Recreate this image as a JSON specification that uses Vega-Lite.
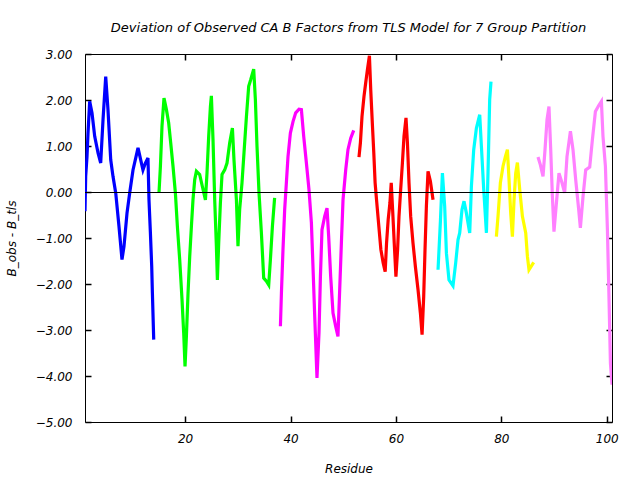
{
  "$schema": "https://vega.github.io/schema/vega-lite/v6.json",
  "width": 527,
  "height": 368,
  "autosize": {"type": "none"},
  "padding": {"left": 85, "top": 54, "right": 28, "bottom": 58},
  "background": "white",
  "title": {
    "text": "Deviation of Observed CA B Factors from TLS Model for 7 Group Partition",
    "font": "DejaVu Sans",
    "fontStyle": "italic",
    "fontWeight": "normal",
    "fontSize": 13,
    "color": "black",
    "anchor": "middle",
    "offset": 13
  },
  "config": {
    "view": {"stroke": "black", "strokeWidth": 1},
    "axis": {
      "labelFont": "DejaVu Sans",
      "labelFontStyle": "italic",
      "labelFontSize": 12,
      "labelColor": "black",
      "titleFont": "DejaVu Sans",
      "titleFontStyle": "italic",
      "titleFontWeight": "normal",
      "titleFontSize": 12,
      "titleColor": "black",
      "domain": false,
      "grid": false,
      "ticks": true,
      "tickColor": "black",
      "tickSize": 6,
      "tickWidth": 1.5,
      "zindex": 1
    }
  },
  "data": {
    "values": [
      {"g": "1", "r": 1.0, "v": -0.42},
      {"g": "1", "r": 1.13, "v": 0.34},
      {"g": "1", "r": 1.38, "v": 0.77},
      {"g": "1", "r": 1.57, "v": 1.28},
      {"g": "1", "r": 1.89, "v": 1.97},
      {"g": "1", "r": 2.33, "v": 1.72},
      {"g": "1", "r": 2.84, "v": 1.21},
      {"g": "1", "r": 3.47, "v": 0.85},
      {"g": "1", "r": 3.98, "v": 0.63},
      {"g": "1", "r": 4.42, "v": 1.57},
      {"g": "1", "r": 4.93, "v": 2.51},
      {"g": "1", "r": 5.36, "v": 1.79},
      {"g": "1", "r": 5.88, "v": 0.70},
      {"g": "1", "r": 6.31, "v": 0.34},
      {"g": "1", "r": 6.83, "v": -0.02},
      {"g": "1", "r": 7.45, "v": -0.75},
      {"g": "1", "r": 8.02, "v": -1.47},
      {"g": "1", "r": 8.40, "v": -1.18},
      {"g": "1", "r": 8.97, "v": -0.46},
      {"g": "1", "r": 9.48, "v": -0.02},
      {"g": "1", "r": 10.11, "v": 0.48},
      {"g": "1", "r": 11.06, "v": 0.96},
      {"g": "1", "r": 11.57, "v": 0.70},
      {"g": "1", "r": 12.0, "v": 0.48},
      {"g": "1", "r": 12.46, "v": 0.63},
      {"g": "1", "r": 12.95, "v": 0.74},
      {"g": "1", "r": 13.14, "v": -0.17},
      {"g": "1", "r": 13.41, "v": -0.89},
      {"g": "1", "r": 13.66, "v": -1.62},
      {"g": "1", "r": 13.79, "v": -2.2},
      {"g": "1", "r": 14.04, "v": -3.21},

      {"g": "2", "r": 15.04, "v": -0.02},
      {"g": "2", "r": 15.31, "v": 0.56},
      {"g": "2", "r": 15.61, "v": 1.43},
      {"g": "2", "r": 15.99, "v": 2.04},
      {"g": "2", "r": 16.45, "v": 1.79},
      {"g": "2", "r": 16.88, "v": 1.50},
      {"g": "2", "r": 17.26, "v": 1.07},
      {"g": "2", "r": 17.7, "v": 0.56},
      {"g": "2", "r": 18.15, "v": -0.02},
      {"g": "2", "r": 18.53, "v": -0.75},
      {"g": "2", "r": 18.97, "v": -1.47},
      {"g": "2", "r": 19.41, "v": -2.34},
      {"g": "2", "r": 19.73, "v": -3.07},
      {"g": "2", "r": 19.98, "v": -3.79},
      {"g": "2", "r": 20.24, "v": -3.14},
      {"g": "2", "r": 20.55, "v": -2.2},
      {"g": "2", "r": 20.87, "v": -1.40},
      {"g": "2", "r": 21.19, "v": -0.75},
      {"g": "2", "r": 21.49, "v": -0.17},
      {"g": "2", "r": 21.82, "v": 0.27},
      {"g": "2", "r": 22.14, "v": 0.45},
      {"g": "2", "r": 22.76, "v": 0.38},
      {"g": "2", "r": 23.27, "v": 0.12},
      {"g": "2", "r": 23.85, "v": -0.17},
      {"g": "2", "r": 24.15, "v": 0.41},
      {"g": "2", "r": 24.47, "v": 1.21},
      {"g": "2", "r": 24.8, "v": 1.86},
      {"g": "2", "r": 24.98, "v": 2.09},
      {"g": "2", "r": 25.29, "v": 1.14},
      {"g": "2", "r": 25.61, "v": -0.17},
      {"g": "2", "r": 25.93, "v": -1.18},
      {"g": "2", "r": 26.12, "v": -1.91},
      {"g": "2", "r": 26.37, "v": -1.11},
      {"g": "2", "r": 26.69, "v": -0.24},
      {"g": "2", "r": 27.0, "v": 0.38},
      {"g": "2", "r": 27.51, "v": 0.48},
      {"g": "2", "r": 27.95, "v": 0.63},
      {"g": "2", "r": 28.46, "v": 1.07},
      {"g": "2", "r": 28.97, "v": 1.39},
      {"g": "2", "r": 29.27, "v": 0.70},
      {"g": "2", "r": 29.73, "v": -0.17},
      {"g": "2", "r": 30.03, "v": -1.18},
      {"g": "2", "r": 30.35, "v": -0.38},
      {"g": "2", "r": 30.79, "v": 0.20},
      {"g": "2", "r": 31.17, "v": 0.85},
      {"g": "2", "r": 31.63, "v": 1.64},
      {"g": "2", "r": 32.06, "v": 2.30},
      {"g": "2", "r": 32.44, "v": 2.44},
      {"g": "2", "r": 33.01, "v": 2.67},
      {"g": "2", "r": 33.33, "v": 2.01},
      {"g": "2", "r": 33.64, "v": 0.99},
      {"g": "2", "r": 34.02, "v": -0.02},
      {"g": "2", "r": 34.47, "v": -0.89},
      {"g": "2", "r": 34.91, "v": -1.87},
      {"g": "2", "r": 35.42, "v": -1.94},
      {"g": "2", "r": 35.86, "v": -2.02},
      {"g": "2", "r": 36.18, "v": -1.47},
      {"g": "2", "r": 36.56, "v": -0.75},
      {"g": "2", "r": 36.98, "v": -0.13},

      {"g": "3", "r": 38.08, "v": -2.92},
      {"g": "3", "r": 38.27, "v": -2.2},
      {"g": "3", "r": 38.57, "v": -1.25},
      {"g": "3", "r": 38.89, "v": -0.38},
      {"g": "3", "r": 39.21, "v": 0.20},
      {"g": "3", "r": 39.52, "v": 0.77},
      {"g": "3", "r": 39.97, "v": 1.28},
      {"g": "3", "r": 40.47, "v": 1.53},
      {"g": "3", "r": 40.98, "v": 1.72},
      {"g": "3", "r": 41.61, "v": 1.80},
      {"g": "3", "r": 42.06, "v": 1.79},
      {"g": "3", "r": 42.5, "v": 1.21},
      {"g": "3", "r": 43.01, "v": 0.63},
      {"g": "3", "r": 43.5, "v": 0.05},
      {"g": "3", "r": 43.96, "v": -0.67},
      {"g": "3", "r": 44.26, "v": -1.62},
      {"g": "3", "r": 44.59, "v": -2.70},
      {"g": "3", "r": 45.02, "v": -4.04},
      {"g": "3", "r": 45.4, "v": -3.07},
      {"g": "3", "r": 45.67, "v": -1.84},
      {"g": "3", "r": 45.97, "v": -0.82},
      {"g": "3", "r": 46.48, "v": -0.53},
      {"g": "3", "r": 46.92, "v": -0.35},
      {"g": "3", "r": 47.24, "v": -0.97},
      {"g": "3", "r": 47.62, "v": -1.84},
      {"g": "3", "r": 48.06, "v": -2.63},
      {"g": "3", "r": 48.57, "v": -2.92},
      {"g": "3", "r": 49.0, "v": -3.14},
      {"g": "3", "r": 49.33, "v": -2.12},
      {"g": "3", "r": 49.65, "v": -1.11},
      {"g": "3", "r": 49.96, "v": -0.17},
      {"g": "3", "r": 50.47, "v": 0.48},
      {"g": "3", "r": 50.9, "v": 0.92},
      {"g": "3", "r": 51.42, "v": 1.17},
      {"g": "3", "r": 51.99, "v": 1.34},

      {"g": "4", "r": 52.99, "v": 0.76},
      {"g": "4", "r": 53.26, "v": 1.07},
      {"g": "4", "r": 53.56, "v": 1.64},
      {"g": "4", "r": 53.94, "v": 2.08},
      {"g": "4", "r": 54.26, "v": 2.37},
      {"g": "4", "r": 54.59, "v": 2.66},
      {"g": "4", "r": 54.97, "v": 2.96},
      {"g": "4", "r": 55.22, "v": 2.22},
      {"g": "4", "r": 55.55, "v": 1.43},
      {"g": "4", "r": 55.8, "v": 0.85},
      {"g": "4", "r": 56.05, "v": 0.20},
      {"g": "4", "r": 56.32, "v": -0.17},
      {"g": "4", "r": 56.7, "v": -0.67},
      {"g": "4", "r": 57.14, "v": -1.25},
      {"g": "4", "r": 57.58, "v": -1.54},
      {"g": "4", "r": 57.96, "v": -1.73},
      {"g": "4", "r": 58.22, "v": -1.11},
      {"g": "4", "r": 58.53, "v": -0.60},
      {"g": "4", "r": 58.86, "v": -0.24},
      {"g": "4", "r": 59.11, "v": 0.20},
      {"g": "4", "r": 59.37, "v": -0.38},
      {"g": "4", "r": 59.68, "v": -1.11},
      {"g": "4", "r": 60.0, "v": -1.84},
      {"g": "4", "r": 60.32, "v": -1.25},
      {"g": "4", "r": 60.58, "v": -0.53},
      {"g": "4", "r": 60.9, "v": 0.05},
      {"g": "4", "r": 61.23, "v": 0.63},
      {"g": "4", "r": 61.53, "v": 1.21},
      {"g": "4", "r": 61.91, "v": 1.61},
      {"g": "4", "r": 62.18, "v": 1.07},
      {"g": "4", "r": 62.48, "v": 0.20},
      {"g": "4", "r": 62.8, "v": -0.53},
      {"g": "4", "r": 63.24, "v": -1.11},
      {"g": "4", "r": 63.69, "v": -1.62},
      {"g": "4", "r": 64.19, "v": -2.12},
      {"g": "4", "r": 64.64, "v": -2.63},
      {"g": "4", "r": 64.96, "v": -3.10},
      {"g": "4", "r": 65.27, "v": -2.27},
      {"g": "4", "r": 65.52, "v": -1.25},
      {"g": "4", "r": 65.78, "v": -0.31},
      {"g": "4", "r": 66.09, "v": 0.45},
      {"g": "4", "r": 66.54, "v": 0.23},
      {"g": "4", "r": 67.04, "v": -0.17},

      {"g": "5", "r": 67.99, "v": -1.69},
      {"g": "5", "r": 68.44, "v": -0.64},
      {"g": "5", "r": 68.82, "v": 0.41},
      {"g": "5", "r": 69.25, "v": -0.31},
      {"g": "5", "r": 69.58, "v": -1.33},
      {"g": "5", "r": 70.07, "v": -1.91},
      {"g": "5", "r": 70.83, "v": -2.04},
      {"g": "5", "r": 71.34, "v": -1.54},
      {"g": "5", "r": 71.78, "v": -1.04},
      {"g": "5", "r": 72.1, "v": -0.89},
      {"g": "5", "r": 72.54, "v": -0.38},
      {"g": "5", "r": 72.92, "v": -0.20},
      {"g": "5", "r": 73.37, "v": -0.46},
      {"g": "5", "r": 74.0, "v": -0.89},
      {"g": "5", "r": 74.32, "v": 0.12},
      {"g": "5", "r": 74.76, "v": 0.92},
      {"g": "5", "r": 75.27, "v": 1.39},
      {"g": "5", "r": 75.9, "v": 1.68},
      {"g": "5", "r": 76.22, "v": 0.99},
      {"g": "5", "r": 76.66, "v": 0.05},
      {"g": "5", "r": 77.17, "v": -0.89},
      {"g": "5", "r": 77.47, "v": 0.41},
      {"g": "5", "r": 77.79, "v": 2.01},
      {"g": "5", "r": 78.04, "v": 2.40},

      {"g": "6", "r": 79.06, "v": -0.97},
      {"g": "6", "r": 79.37, "v": -0.53},
      {"g": "6", "r": 79.82, "v": 0.20},
      {"g": "6", "r": 80.32, "v": 0.56},
      {"g": "6", "r": 80.77, "v": 0.77},
      {"g": "6", "r": 81.15, "v": 0.92},
      {"g": "6", "r": 81.46, "v": 0.27},
      {"g": "6", "r": 81.78, "v": -0.46},
      {"g": "6", "r": 82.1, "v": -0.97},
      {"g": "6", "r": 82.41, "v": -0.17},
      {"g": "6", "r": 82.73, "v": 0.41},
      {"g": "6", "r": 83.05, "v": 0.64},
      {"g": "6", "r": 83.49, "v": 0.05},
      {"g": "6", "r": 84.0, "v": -0.53},
      {"g": "6", "r": 84.63, "v": -0.89},
      {"g": "6", "r": 84.95, "v": -1.40},
      {"g": "6", "r": 85.25, "v": -1.69},
      {"g": "6", "r": 86.14, "v": -1.53},

      {"g": "7", "r": 86.96, "v": 0.76},
      {"g": "7", "r": 87.41, "v": 0.59},
      {"g": "7", "r": 87.91, "v": 0.34},
      {"g": "7", "r": 88.29, "v": 0.92},
      {"g": "7", "r": 88.67, "v": 1.57},
      {"g": "7", "r": 89.04, "v": 1.86},
      {"g": "7", "r": 89.37, "v": 0.92},
      {"g": "7", "r": 89.69, "v": -0.10},
      {"g": "7", "r": 89.99, "v": -0.86},
      {"g": "7", "r": 90.45, "v": -0.24},
      {"g": "7", "r": 90.94, "v": 0.41},
      {"g": "7", "r": 91.51, "v": 0.20},
      {"g": "7", "r": 92.02, "v": -0.02},
      {"g": "7", "r": 92.46, "v": 0.77},
      {"g": "7", "r": 93.11, "v": 1.32},
      {"g": "7", "r": 93.6, "v": 0.92},
      {"g": "7", "r": 94.11, "v": 0.27},
      {"g": "7", "r": 94.68, "v": -0.38},
      {"g": "7", "r": 95.0, "v": -0.78},
      {"g": "7", "r": 95.5, "v": -0.10},
      {"g": "7", "r": 96.01, "v": 0.48},
      {"g": "7", "r": 96.77, "v": 0.54},
      {"g": "7", "r": 97.28, "v": 1.14},
      {"g": "7", "r": 97.85, "v": 1.75},
      {"g": "7", "r": 98.48, "v": 1.88},
      {"g": "7", "r": 98.99, "v": 1.97},
      {"g": "7", "r": 99.29, "v": 1.21},
      {"g": "7", "r": 99.75, "v": 0.56},
      {"g": "7", "r": 100.13, "v": -0.82},
      {"g": "7", "r": 100.38, "v": -2.05},
      {"g": "7", "r": 100.7, "v": -3.72},
      {"g": "7", "r": 101.0, "v": -4.19}
    ]
  },
  "layer": [
    {
      "mark": {"type": "line", "strokeWidth": 3.2, "strokeJoin": "miter", "clip": true},
      "encoding": {
        "x": {
          "field": "r",
          "type": "quantitative",
          "scale": {"domain": [1, 101], "nice": false, "zero": false},
          "axis": {"orient": "bottom", "offset": -6, "values": [20, 40, 60, 80, 100], "format": "d", "title": "Residue", "labelPadding": 11, "titlePadding": 19}
        },
        "y": {
          "field": "v",
          "type": "quantitative",
          "scale": {"domain": [-5, 3], "nice": false, "zero": false},
          "axis": {"orient": "left", "offset": -6, "values": [-5, -4, -3, -2, -1, 0, 1, 2, 3], "format": ".2f", "title": "B_obs - B_tls", "labelPadding": 13, "titlePadding": 17}
        },
        "color": {
          "field": "g",
          "type": "nominal",
          "scale": {"domain": ["1", "2", "3", "4", "5", "6", "7"], "range": ["#0000ff", "#00ff00", "#ff00ff", "#ff0000", "#00ffff", "#ffff00", "#ff80ff"]},
          "legend": null
        },
        "order": {"field": "r", "type": "quantitative"}
      }
    },
    {
      "mark": {"type": "rule", "color": "black", "strokeWidth": 1, "yOffset": 0.5},
      "encoding": {
        "x": {"datum": 1, "type": "quantitative", "axis": {"orient": "top", "offset": -6, "values": [20, 40, 60, 80, 100], "labels": false, "title": null}},
        "x2": {"datum": 101},
        "y": {"datum": 0, "type": "quantitative", "axis": {"orient": "right", "offset": -6, "values": [-5, -4, -3, -2, -1, 0, 1, 2, 3], "labels": false, "title": null}}
      }
    }
  ],
  "resolve": {"axis": {"x": "independent", "y": "independent"}}
}
